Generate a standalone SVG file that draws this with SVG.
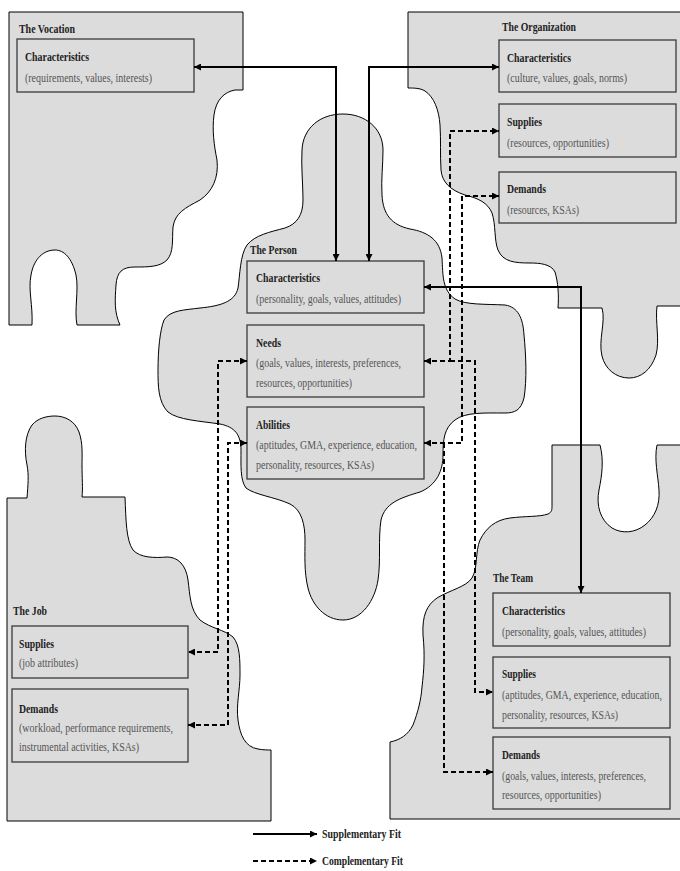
<svg xmlns="http://www.w3.org/2000/svg" width="680" height="871" viewBox="0 0 680 871">
<style>
.shape{fill:#dcdcdc;stroke:#000;stroke-width:1}
.box{fill:#dcdcdc;stroke:#3a3a3a;stroke-width:1.3}
text{font-family:"Liberation Serif","Times New Roman",serif}
.t{font-size:12.5px;font-weight:bold;fill:#222}
.h{font-size:12.5px;font-weight:bold;fill:#222}
.s{font-size:12px;fill:#555}
.sol{fill:none;stroke:#000;stroke-width:2}
.dash{fill:none;stroke:#000;stroke-width:2;stroke-dasharray:5,3}
</style>
<defs>
<marker id="ah" markerUnits="userSpaceOnUse" markerWidth="8" markerHeight="7" refX="7" refY="3.5" orient="auto-start-reverse">
<path d="M0,0 L7,3.5 L0,7 Z" fill="#000"/>
</marker>
</defs>
<rect width="680" height="871" fill="#fff"/>

<g id="vocation">
<path class="shape" d="M9,12 H243 V90 H235 C224,92 216,100 214,115 C212,130 214,145 217,160 C219,178 212,192 200,200 C185,208 175,213 173,227 C172,240 174,252 167,260 C160,267 148,267 135,267 C122,267 117,272 116,285 C115,300 114,312 120,325 H77 C74,310 79,290 76,275 C72,258 64,250 55,250 C44,250 34,258 31,275 C28,290 33,305 32,325 H9 Z"/>
<text class="t" x="19" y="33" textLength="56" lengthAdjust="spacingAndGlyphs">The Vocation</text>
<rect class="box" x="17" y="39" width="177" height="53"/>
<text class="h" x="25" y="61" textLength="64" lengthAdjust="spacingAndGlyphs">Characteristics</text>
<text class="s" x="25" y="82" textLength="127" lengthAdjust="spacingAndGlyphs">(requirements, values, interests)</text>
</g>

<g id="organization">
<path class="shape" d="M408,12 H681 V306 H657 C655,322 660,340 656,355 C651,370 641,378 629,378 C616,378 605,369 602,356 C598,340 606,322 602,308 H558 C559,295 558,282 555,272 C551,264 540,263 530,263 C515,263 503,262 498,250 C494,240 496,225 492,213 C488,203 478,198 465,195 C450,190 442,182 441,170 C440,155 441,140 440,125 C439,110 434,97 425,91 C420,88 414,88 408,88 Z"/>
<text class="t" x="502" y="31" textLength="74" lengthAdjust="spacingAndGlyphs">The Organization</text>
<rect class="box" x="499" y="40" width="177" height="52"/>
<text class="h" x="507" y="62" textLength="64" lengthAdjust="spacingAndGlyphs">Characteristics</text>
<text class="s" x="507" y="82" textLength="120" lengthAdjust="spacingAndGlyphs">(culture, values, goals, norms)</text>
<rect class="box" x="499" y="104" width="177" height="53"/>
<text class="h" x="507" y="126" textLength="35" lengthAdjust="spacingAndGlyphs">Supplies</text>
<text class="s" x="507" y="147" textLength="102" lengthAdjust="spacingAndGlyphs">(resources, opportunities)</text>
<rect class="box" x="499" y="172" width="177" height="51"/>
<text class="h" x="507" y="193" textLength="39" lengthAdjust="spacingAndGlyphs">Demands</text>
<text class="s" x="507" y="214" textLength="72" lengthAdjust="spacingAndGlyphs">(resources, KSAs)</text>
</g>

<g id="person">
<path class="shape" d="M343,114 C365,114 383,128 383,150 C383,165 381,180 382,195 C383,215 392,225 410,229 C428,232 440,240 442,258 C443,275 442,290 455,299 C465,305 485,304 505,305 C518,307 523,318 524,335 C526,355 527,380 524,398 C521,410 515,413 505,413 C485,413 465,412 455,420 C444,428 443,440 443,455 C443,470 437,485 420,492 C400,498 385,503 381,520 C378,540 381,560 378,580 C375,600 362,620 343,620 C325,620 312,605 308,588 C304,572 305,555 305,540 C305,525 302,510 290,504 C275,497 255,495 246,488 C240,480 241,465 241,450 C241,435 235,427 220,424 C200,421 178,420 168,412 C158,402 158,385 158,370 C158,350 160,330 164,320 C170,310 185,310 200,308 C220,306 235,302 238,288 C240,275 240,255 247,245 C255,235 270,232 285,228 C297,224 303,215 303,200 C303,185 301,165 302,150 C303,128 320,114 343,114 Z"/>
<text class="t" x="250" y="254" textLength="47" lengthAdjust="spacingAndGlyphs">The Person</text>
<rect class="box" x="247" y="261" width="177" height="52"/>
<text class="h" x="256" y="282" textLength="64" lengthAdjust="spacingAndGlyphs">Characteristics</text>
<text class="s" x="256" y="303" textLength="145" lengthAdjust="spacingAndGlyphs">(personality, goals, values, attitudes)</text>
<rect class="box" x="247" y="325" width="177" height="72"/>
<text class="h" x="256" y="347" textLength="25" lengthAdjust="spacingAndGlyphs">Needs</text>
<text class="s" x="256" y="367" textLength="145" lengthAdjust="spacingAndGlyphs">(goals, values, interests, preferences,</text>
<text class="s" x="256" y="387" textLength="96" lengthAdjust="spacingAndGlyphs">resources, opportunities)</text>
<rect class="box" x="247" y="407" width="177" height="72"/>
<text class="h" x="256" y="429" textLength="34" lengthAdjust="spacingAndGlyphs">Abilities</text>
<text class="s" x="256" y="449" textLength="161" lengthAdjust="spacingAndGlyphs">(aptitudes, GMA, experience, education,</text>
<text class="s" x="256" y="469" textLength="118" lengthAdjust="spacingAndGlyphs">personality, resources, KSAs)</text>
</g>

<g id="job">
<path class="shape" d="M7,498 H27 C28,485 29,475 27,465 C24,450 25,435 32,425 C38,418 47,416 55,416 C65,416 75,421 79,432 C83,443 82,455 82,465 C82,478 83,488 82,497 H125 C126,520 126,540 133,550 C140,558 155,558 167,557 C178,557 186,565 188,580 C190,595 190,610 200,620 C210,628 225,630 233,637 C240,645 240,660 240,675 C240,690 236,705 238,720 C240,735 245,747 258,749 C263,750 268,750 271,750 V821 H7 Z"/>
<text class="t" x="13" y="615" textLength="34" lengthAdjust="spacingAndGlyphs">The Job</text>
<rect class="box" x="12" y="626" width="176" height="52"/>
<text class="h" x="19" y="648" textLength="35" lengthAdjust="spacingAndGlyphs">Supplies</text>
<text class="s" x="19" y="667" textLength="59" lengthAdjust="spacingAndGlyphs">(job attributes)</text>
<rect class="box" x="12" y="689" width="176" height="73"/>
<text class="h" x="19" y="713" textLength="39" lengthAdjust="spacingAndGlyphs">Demands</text>
<text class="s" x="19" y="732" textLength="154" lengthAdjust="spacingAndGlyphs">(workload, performance requirements,</text>
<text class="s" x="19" y="751" textLength="120" lengthAdjust="spacingAndGlyphs">instrumental activities, KSAs)</text>
</g>

<g id="team">
<path class="shape" d="M552,445 H600 C604,460 602,475 599,490 C596,505 600,520 612,528 C622,534 635,533 645,525 C655,517 660,505 659,490 C658,475 654,460 657,445 H681 V819 H390 V742 C400,740 408,735 413,725 C418,712 421,700 422,687 C424,670 425,655 423,635 C422,615 427,605 437,598 C450,590 466,587 472,578 C478,568 475,552 480,540 C486,528 495,520 510,518 C525,516 540,517 548,514 C552,512 552,510 552,505 Z"/>
<text class="t" x="493" y="582" textLength="40" lengthAdjust="spacingAndGlyphs">The Team</text>
<rect class="box" x="493" y="593" width="177" height="53"/>
<text class="h" x="502" y="615" textLength="63" lengthAdjust="spacingAndGlyphs">Characteristics</text>
<text class="s" x="502" y="636" textLength="144" lengthAdjust="spacingAndGlyphs">(personality, goals, values, attitudes)</text>
<rect class="box" x="493" y="657" width="177" height="71"/>
<text class="h" x="502" y="678" textLength="34" lengthAdjust="spacingAndGlyphs">Supplies</text>
<text class="s" transform="translate(502,699) scale(0.82,1)" x="0" y="0" textLength="195" lengthAdjust="spacingAndGlyphs">(aptitudes, GMA, experience, education,</text>
<text class="s" x="502" y="719" textLength="116" lengthAdjust="spacingAndGlyphs">personality, resources, KSAs)</text>
<rect class="box" x="493" y="737" width="177" height="72"/>
<text class="h" x="502" y="759" textLength="38" lengthAdjust="spacingAndGlyphs">Demands</text>
<text class="s" x="502" y="780" textLength="144" lengthAdjust="spacingAndGlyphs">(goals, values, interests, preferences,</text>
<text class="s" x="502" y="799" textLength="99" lengthAdjust="spacingAndGlyphs">resources, opportunities)</text>
</g>

<g id="connectors">
<path class="sol" d="M194,67 H336 V261" marker-start="url(#ah)" marker-end="url(#ah)"/>
<path class="sol" d="M369,261 V67 H499" marker-start="url(#ah)" marker-end="url(#ah)"/>
<path class="sol" d="M424,287 H581 V593" marker-start="url(#ah)" marker-end="url(#ah)"/>
<path class="dash" d="M424,361 H450 V131 H499" marker-start="url(#ah)" marker-end="url(#ah)"/>
<path class="dash" d="M450,361 H475 V692 H493" marker-end="url(#ah)"/>
<path class="dash" d="M424,443 H462 V196 H499" marker-start="url(#ah)" marker-end="url(#ah)"/>
<path class="dash" d="M444,443 V772 H493" marker-end="url(#ah)"/>
<path class="dash" d="M247,361 H218 V652 H188" marker-start="url(#ah)" marker-end="url(#ah)"/>
<path class="dash" d="M247,443 H228 V725 H188" marker-start="url(#ah)" marker-end="url(#ah)"/>
</g>

<g id="legend">
<path class="sol" d="M253,834 H317" marker-end="url(#ah)"/>
<text class="h" x="322" y="838" textLength="79" lengthAdjust="spacingAndGlyphs">Supplementary Fit</text>
<path class="dash" d="M253,861 H317" marker-end="url(#ah)"/>
<text class="h" x="322" y="865" textLength="81" lengthAdjust="spacingAndGlyphs">Complementary Fit</text>
</g>
</svg>
